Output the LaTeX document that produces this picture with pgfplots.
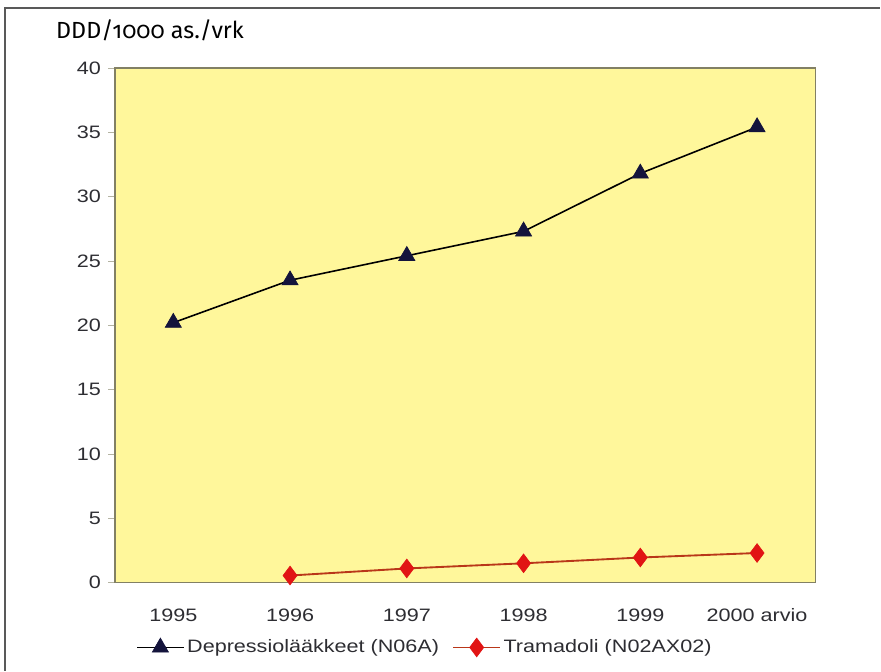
\documentclass[border=0pt]{standalone}
\usepackage{fontspec}
\setmainfont{Liberation Sans}
\newfontfamily\wide[FakeStretch=1.2]{Liberation Sans}
\newfontfamily\titlefont[Numbers=OldStyle]{Fira Sans}
\usepackage{pgfplots}
\pgfplotsset{compat=1.18}
\definecolor{plotbg}{RGB}{255,247,155}
\definecolor{axisgray}{RGB}{130,128,100}
\definecolor{ticktext}{RGB}{45,45,50}
\definecolor{navy}{RGB}{20,20,60}
\definecolor{redline}{RGB}{185,55,25}
\definecolor{redmark}{RGB}{225,20,20}
\begin{document}
\begin{tikzpicture}[x=1pt,y=1pt]
\path (0,0) rectangle (660.75,503.25);
\draw[gray!70!black, line width=0.9pt] (3.75,0) -- (3.75,497.25) -- (660.75,497.25);
\node[anchor=west, font=\titlefont\fontsize{17.5}{20}\selectfont, text=black, inner sep=0pt] at (42,480.5) {DDD/1000 as./vrk};
\begin{axis}[
  scale only axis,
  width=525.75pt, height=386.25pt,
  at={(86.25pt,66pt)}, anchor=south west,
  xmin=-0.5, xmax=5.5, ymin=0, ymax=40,
  xtick={0,1,2,3,4,5},
  xticklabels={1995,1996,1997,1998,1999,2000 arvio},
  ytick={0,5,...,40},
  axis background/.style={fill=plotbg},
  axis line style={axisgray, line width=1.1pt},
  x tick style={draw=none},
  y tick style={axisgray!60, line width=0.6pt},
  major tick length=5pt,
  tick align=outside,
  tick pos=left,
  /pgf/number format/assume math mode=true,
  ticklabel style={font=\wide\fontsize{13.5}{15}\selectfont, text=ticktext},
  xticklabel style={yshift=-11pt},
  yticklabel style={xshift=-2pt},
  legend style={draw=none, fill=none, at={(0.443,-0.126)}, anchor=center,
    legend columns=2, font=\wide\fontsize{13.5}{15}\selectfont, text=ticktext,
    inner sep=0pt,
    /tikz/every even column/.append style={column sep=8pt}},
  legend image code/.code={
    \draw[#1] (0pt,0pt) -- (35pt,0pt);
    \draw[#1,mark repeat=1] plot coordinates {(17.5pt,0pt)};
  },
]
\addplot[black, line width=1.2pt, mark=triangle*, mark size=7pt, mark options={fill=navy, draw=navy, solid, line width=0.5pt}]
  coordinates {(0,20.2) (1,23.5) (2,25.4) (3,27.3) (4,31.8) (5,35.4)};
\addlegendentry{Depressiolääkkeet (N06A)}
\addplot[redline, line width=1.4pt, mark=diamond*, mark size=7pt, mark options={fill=redmark, draw=redmark, solid, line width=0.5pt}]
  coordinates {(1,0.55) (2,1.1) (3,1.5) (4,1.95) (5,2.3)};
\addlegendentry{Tramadoli (N02AX02)}
\end{axis}
\end{tikzpicture}
\end{document}
